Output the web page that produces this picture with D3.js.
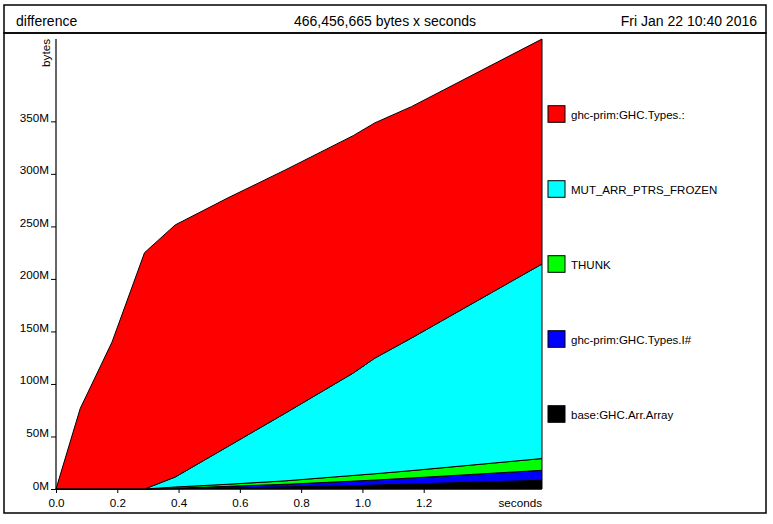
<!DOCTYPE html>
<html>
<head>
<meta charset="utf-8">
<script src="https://cdn.jsdelivr.net/npm/d3@7"></script>
<style>
  html, body { margin: 0; padding: 0; background: #fff; }
  svg { display: block; font-family: "Liberation Sans", Arial, Helvetica, sans-serif; }
</style>
</head>
<body>
<svg id="chart" width="773" height="524"></svg>
<script>
// ---- data (seconds, values in MB) ----
const times = [0, 0.079, 0.183, 0.289, 0.389, 0.56, 0.75, 0.97, 1.04, 1.16, 1.586];
const seriesNames = ["base:GHC.Arr.Array", "ghc-prim:GHC.Types.I#", "THUNK", "MUT_ARR_PTRS_FROZEN", "ghc-prim:GHC.Types.:"];
const seriesColors = ["#000000", "#0000ff", "#00ff00", "#00ffff", "#ff0000"];
const arrArray   = [0, 0, 0, 0, 0.3, 1.0, 2.0, 3.2, 3.8, 4.8, 8.3];
const typesIHash = [0, 0, 0, 0, 0.5, 1.5, 2.5, 4.3, 4.7, 5.7, 9.5];
const thunk      = [0, 0, 0, 0, 1.1, 2.0, 3.3, 5.4, 6.0, 7.0, 11.2];
const mutArr     = [0, 0, 0, 0, 9.5, 35.8, 64.7, 97.5, 110.0, 126.2, 185.2];
const typesCons  = [0, 76.6, 140, 225, 240, 236.7, 231.5, 226, 224, 220.3, 214.2];
const seriesValues = [arrArray, typesIHash, thunk, mutArr, typesCons];
const yTicks = [0, 50, 100, 150, 200, 250, 300, 350];
const yTickLabels = ["0M", "50M", "100M", "150M", "200M", "250M", "300M", "350M"];
const xTicks = [0, 0.2, 0.4, 0.6, 0.8, 1.0, 1.2];
const xTickLabels = ["0.0", "0.2", "0.4", "0.6", "0.8", "1.0", "1.2"];
const titleLeft = "difference";
const titleMid = "466,456,665 bytes x seconds";
const titleRight = "Fri Jan 22 10:40 2016";

const svg = d3.select("#chart");

// frames
svg.append("rect").attr("x", 4).attr("y", 5).attr("width", 762).attr("height", 28)
  .attr("fill", "none").attr("stroke", "#000").attr("stroke-width", 1.5);
svg.append("rect").attr("x", 4).attr("y", 33).attr("width", 762).attr("height", 480)
  .attr("fill", "none").attr("stroke", "#000").attr("stroke-width", 1.5);

svg.append("text").attr("x", 16).attr("y", 26).attr("font-size", 14).text(titleLeft);
svg.append("text").attr("x", 385).attr("y", 26).attr("font-size", 14).attr("text-anchor", "middle").text(titleMid);
svg.append("text").attr("x", 757).attr("y", 26).attr("font-size", 14).attr("text-anchor", "end").text(titleRight);

// stack
const rows = times.map((t, i) => {
  const r = { t };
  seriesNames.forEach((n, k) => r[n] = seriesValues[k][i]);
  return r;
});
const stacked = d3.stack().keys(seriesNames)(rows);
const maxTotal = d3.max(stacked[stacked.length - 1], d => d[1]);

const x = d3.scaleLinear().domain([0, d3.max(times)]).range([56, 542]);
const y = d3.scaleLinear().domain([0, maxTotal]).range([489, 39]);

const area = d3.area()
  .x(d => x(d.data.t))
  .y0(d => y(d[0]))
  .y1(d => y(d[1]));

svg.append("g").selectAll("path").data(stacked).join("path")
  .attr("d", area)
  .attr("fill", (d, i) => seriesColors[i])
  .attr("stroke", "#000")
  .attr("stroke-width", 1)
  .attr("stroke-linejoin", "round");

// y axis
const yAxis = d3.axisLeft(y).tickValues(yTicks).tickSize(5).tickFormat((d, i) => yTickLabels[i]);
const gy = svg.append("g").attr("transform", "translate(56,0)").call(yAxis);
gy.select(".domain").attr("d", `M0,${y(0)}V${y(maxTotal)}`).attr("stroke-width", 1.2);
gy.selectAll(".tick text").attr("font-size", 11.7).attr("font-family", "Liberation Sans, Arial, sans-serif")
  .attr("dy", 0).attr("x", -7).attr("fill", "#000");
gy.selectAll(".tick line").attr("stroke", "#000");

// x axis
const xAxis = d3.axisBottom(x).tickValues(xTicks).tickSize(4).tickFormat((d, i) => xTickLabels[i]);
const gx = svg.append("g").attr("transform", `translate(0,${y(0)})`).call(xAxis);
gx.select(".domain").attr("d", `M${x(0)},0H${x(d3.max(times))}`).attr("stroke-width", 1);
gx.selectAll(".tick text").attr("font-size", 11.7).attr("font-family", "Liberation Sans, Arial, sans-serif")
  .attr("y", 17.5).attr("dy", 0).attr("fill", "#000");

svg.append("text").attr("x", 542).attr("y", 506.5).attr("font-size", 11.7).attr("text-anchor", "end").text("seconds");
svg.append("text").attr("transform", `translate(50,39) rotate(-90)`).attr("font-size", 11.7)
  .attr("text-anchor", "end").text("bytes");

// legend
const legendOrder = seriesNames.map((n, i) => i).reverse();
const lg = svg.append("g").selectAll("g").data(legendOrder).join("g")
  .attr("transform", (d, j) => `translate(548,${105.7 + j * 75})`);
lg.append("rect").attr("width", 17).attr("height", 16.6)
  .attr("fill", d => seriesColors[d]).attr("stroke", "#000").attr("stroke-width", 1);
lg.append("text").attr("x", 23).attr("y", 13).attr("font-size", 11.5).text(d => seriesNames[d]);
</script>
</body>
</html>
